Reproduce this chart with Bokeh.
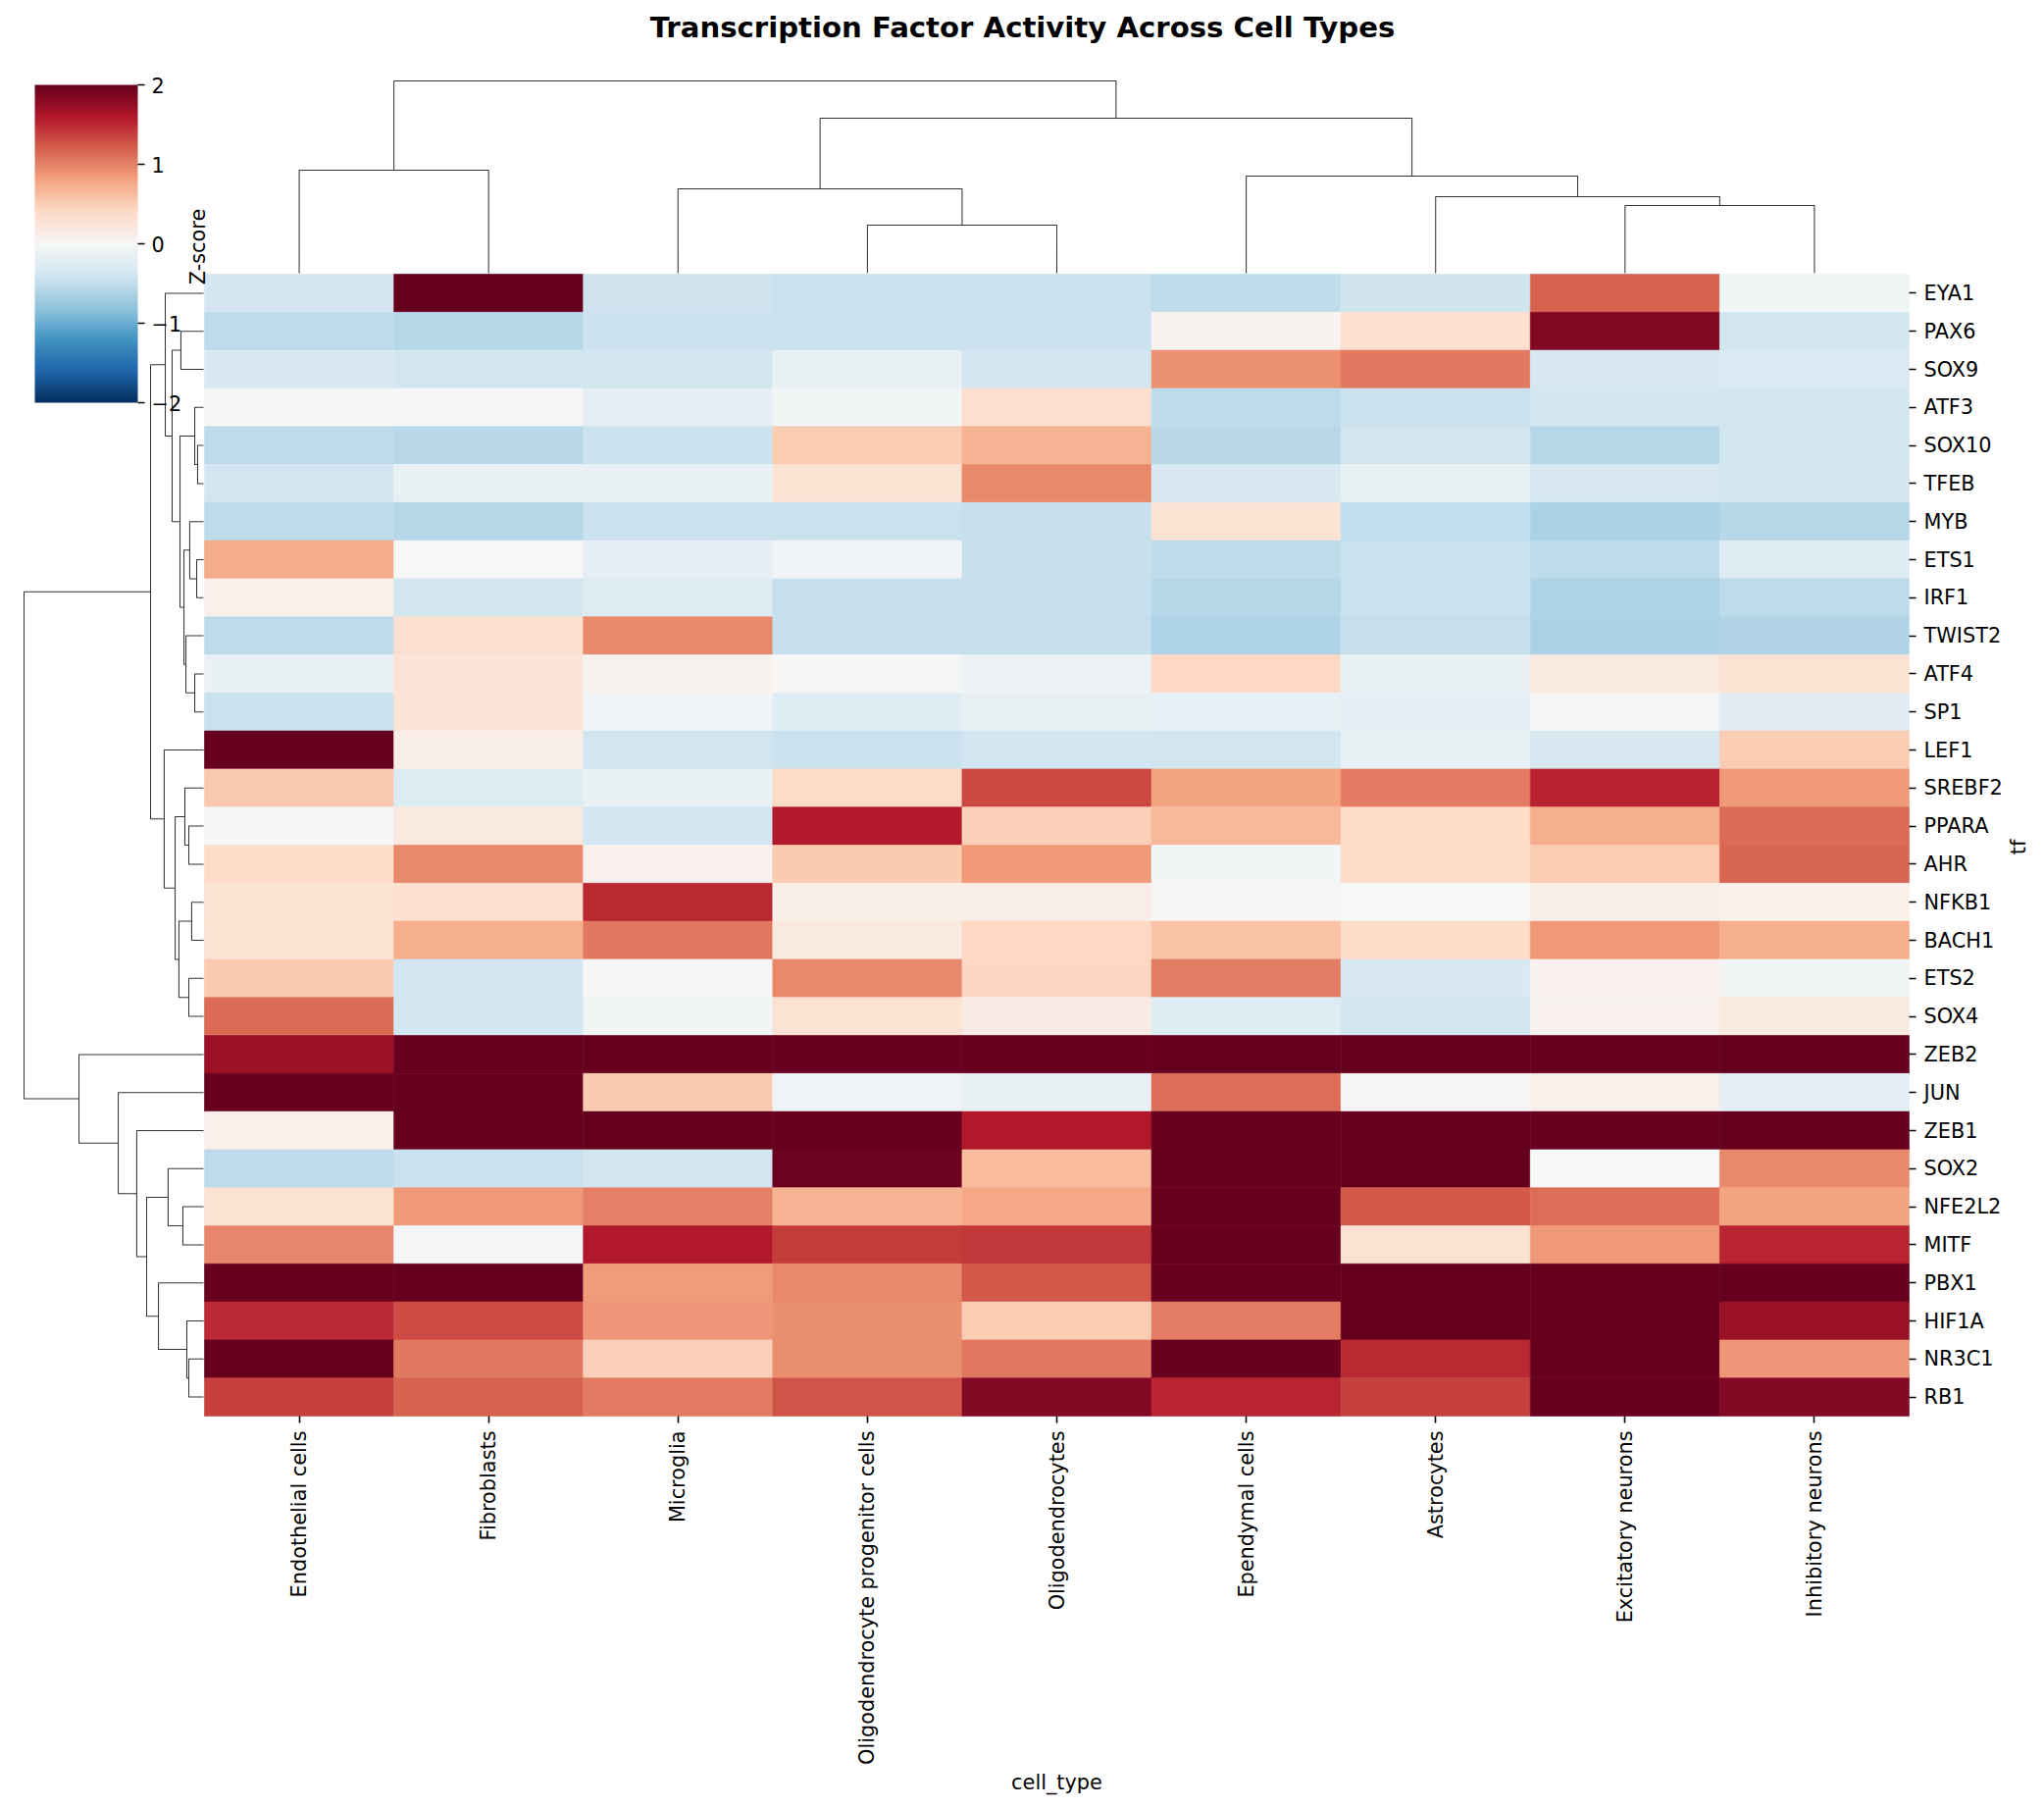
import math
import numpy as np
from bokeh.embed import file_html
from bokeh.resources import INLINE
from bokeh.plotting import figure
from bokeh.palettes import RdBu
from bokeh.models import (ColumnDataSource, Range1d, LinearAxis, FixedTicker, LinearColorMapper,
                          ColorBar, Label)
from bokeh.transform import transform

CELL_TYPES = ["Endothelial cells", "Fibroblasts", "Microglia", "Oligodendrocyte progenitor cells",
              "Oligodendrocytes", "Ependymal cells", "Astrocytes", "Excitatory neurons", "Inhibitory neurons"]
TFS = ["EYA1", "PAX6", "SOX9", "ATF3", "SOX10", "TFEB", "MYB", "ETS1", "IRF1", "TWIST2", "ATF4", "SP1", "LEF1",
       "SREBF2", "PPARA", "AHR", "NFKB1", "BACH1", "ETS2", "SOX4", "ZEB2", "JUN", "ZEB1", "SOX2", "NFE2L2",
       "MITF", "PBX1", "HIF1A", "NR3C1", "RB1"]
Z = [
    [-0.36, 2.5, -0.42, -0.45, -0.43, -0.51, -0.4, 1.18, -0.06],
    [-0.53, -0.57, -0.43, -0.45, -0.43, 0.05, 0.34, 1.85, -0.38],
    [-0.32, -0.39, -0.38, -0.15, -0.36, 0.92, 1.05, -0.33, -0.3],
    [0.01, -0.02, -0.2, -0.06, 0.34, -0.53, -0.44, -0.36, -0.38],
    [-0.53, -0.55, -0.43, 0.51, 0.7, -0.55, -0.39, -0.57, -0.38],
    [-0.36, -0.13, -0.14, 0.29, 0.96, -0.32, -0.15, -0.34, -0.37],
    [-0.53, -0.57, -0.44, -0.45, -0.46, 0.29, -0.5, -0.63, -0.57],
    [0.74, -0.01, -0.2, -0.07, -0.46, -0.51, -0.44, -0.53, -0.26],
    [0.1, -0.39, -0.28, -0.47, -0.46, -0.57, -0.44, -0.62, -0.53],
    [-0.53, 0.34, 0.96, -0.48, -0.47, -0.61, -0.47, -0.63, -0.6],
    [-0.13, 0.27, 0.07, 0.01, -0.12, 0.41, -0.13, 0.2, 0.29],
    [-0.44, 0.27, -0.07, -0.24, -0.15, -0.17, -0.2, 0.03, -0.23],
    [2.3, 0.13, -0.38, -0.45, -0.36, -0.39, -0.14, -0.33, 0.5],
    [0.54, -0.28, -0.14, 0.4, 1.32, 0.8, 1.04, 1.54, 0.87],
    [0.0, 0.19, -0.36, 1.58, 0.48, 0.65, 0.38, 0.72, 1.13],
    [0.39, 0.96, 0.09, 0.52, 0.86, -0.06, 0.38, 0.51, 1.16],
    [0.31, 0.34, 1.5, 0.11, 0.13, 0.02, -0.01, 0.12, 0.1],
    [0.3, 0.72, 1.05, 0.2, 0.41, 0.58, 0.38, 0.87, 0.72],
    [0.52, -0.36, 0.0, 0.96, 0.43, 1.02, -0.32, 0.09, -0.05],
    [1.14, -0.36, -0.06, 0.31, 0.17, -0.25, -0.39, 0.09, 0.2],
    [1.72, 2.5, 2.5, 2.5, 2.5, 2.5, 2.5, 2.5, 2.5],
    [2.5, 2.6, 0.52, -0.07, -0.15, 1.12, 0.0, 0.1, -0.2],
    [0.1, 2.5, 2.5, 2.2, 1.6, 2.5, 2.5, 2.5, 2.5],
    [-0.53, -0.45, -0.38, 1.96, 0.63, 2.5, 2.3, -0.01, 0.96],
    [0.3, 0.87, 1.0, 0.7, 0.77, 2.5, 1.23, 1.12, 0.8],
    [0.98, -0.02, 1.6, 1.4, 1.42, 2.5, 0.29, 0.87, 1.53],
    [2.5, 2.5, 0.85, 0.96, 1.24, 2.5, 2.5, 2.5, 2.5],
    [1.49, 1.31, 0.88, 0.93, 0.51, 1.03, 2.5, 2.5, 1.72],
    [2.3, 1.05, 0.49, 0.93, 1.05, 2.5, 1.5, 2.5, 0.88],
    [1.36, 1.18, 1.04, 1.25, 1.83, 1.53, 1.36, 2.5, 1.83],
]
# scipy-style linkages: (left child, right child, relative height); new nodes continue after the leaves
COL_LINK = [(0, 1, .536), (3, 4, .25), (2, 10, .439), (7, 8, .352), (6, 12, .398), (5, 13, .505),
            (11, 14, .806), (9, 15, 1.0)]
ROW_LINK = [(1, 2, .126), (4, 5, .033), (3, 31, .049), (7, 8, .038), (6, 33, .077), (10, 11, .049), (9, 35, .098),
            (34, 36, .109), (32, 37, .131), (30, 38, .175), (0, 39, .213), (14, 15, .082), (13, 41, .104),
            (16, 17, .066), (18, 19, .082), (43, 44, .137), (42, 45, .158), (12, 46, .219), (40, 47, .295),
            (24, 25, .115), (23, 49, .197), (28, 29, .082), (27, 51, .093), (26, 52, .251), (50, 53, .317),
            (22, 54, .372), (21, 55, .475), (20, 56, .694), (48, 57, 1.0)]

# layout in reference pixels
W, H = 2076, 1835
M = 0
HX0, HX1, HY0, HY1 = 208.0, 1946.0, 279.0, 1443.0
TREE_L_BASE, TREE_L_W = 207.0, 183.0
TREE_T_BASE, TREE_T_H = 278.0, 196.0
FONT = "DejaVu Sans"
TICK = "20.83px"

cw = (HX1 - HX0) / len(CELL_TYPES)
rh = (HY1 - HY0) / len(TFS)

p = figure(width=W, height=H, output_backend="svg", toolbar_location=None, min_border=0,
           x_axis_type=None, y_axis_type=None,
           x_range=Range1d((M - HX0) / cw, (M + W - HX0) / cw),
           y_range=Range1d((M + H - HY0) / rh, (M - HY0) / rh))
p.outline_line_color = None
p.grid.visible = False
p.background_fill_color = "white"
p.border_fill_color = "white"
p.extra_x_ranges["page"] = Range1d(M, M + W)
p.extra_y_ranges["page"] = Range1d(M + H, M)
p.extra_x_ranges["ltree"] = Range1d((TREE_L_BASE - M) / TREE_L_W, (TREE_L_BASE - M - W) / TREE_L_W)
p.extra_y_ranges["ttree"] = Range1d((TREE_T_BASE - M - H) / TREE_T_H, (TREE_T_BASE - M) / TREE_T_H)

stops = np.array([[int(c[i:i + 2], 16) for i in (1, 3, 5)] for c in RdBu[11]], float)
t = np.linspace(0, 10, 256)
palette = ["#%02x%02x%02x" % tuple(int(round(np.interp(v, np.arange(11), stops[:, k]))) for k in range(3)) for v in t]
mapper = LinearColorMapper(palette=palette, low=-2, high=2)

xs, ys, vs = [], [], []
for r, row in enumerate(Z):
    for c, v in enumerate(row):
        xs.append(c + .5)
        ys.append(r + .5)
        vs.append(v)
src = ColumnDataSource(dict(x=xs, y=ys, v=vs))
p.rect("x", "y", width=1, height=1, source=src, fill_color=transform("v", mapper),
       line_color=transform("v", mapper), line_width=0.6)


def dendro(link, n):
    pos = {i: (i + .5, 0.0) for i in range(n)}
    a, b = [], []
    for k, (l, r, h) in enumerate(link):
        (pl, hl), (pr, hr) = pos[l], pos[r]
        a.append([pl, pl, pr, pr])
        b.append([hl, h, h, hr])
        pos[n + k] = ((pl + pr) / 2, h)
    return a, b


a, b = dendro(COL_LINK, len(CELL_TYPES))
p.multi_line(a, b, y_range_name="ttree", line_color="#333333", line_width=1.04)
a, b = dendro(ROW_LINK, len(TFS))
p.multi_line(b, a, x_range_name="ltree", line_color="#333333", line_width=1.04)

right = LinearAxis(ticker=FixedTicker(ticks=[i + .5 for i in range(len(TFS))]),
                   major_label_overrides={i + .5: s for i, s in enumerate(TFS)},
                   fixed_location=len(CELL_TYPES), axis_line_color=None,
                   major_tick_in=0, major_tick_out=7, major_tick_line_width=1.6, minor_tick_line_color=None,
                   major_label_standoff=8, major_label_text_font=FONT, major_label_text_font_size=TICK,
                   major_label_text_color="black")
p.add_layout(right, "right")
bottom = LinearAxis(ticker=FixedTicker(ticks=[i + .5 for i in range(len(CELL_TYPES))]),
                    major_label_overrides={i + .5: s for i, s in enumerate(CELL_TYPES)},
                    fixed_location=len(TFS), axis_line_color=None,
                    major_tick_in=0, major_tick_out=7, major_tick_line_width=1.6, minor_tick_line_color=None,
                    major_label_standoff=8, major_label_orientation=math.pi / 2,
                    major_label_text_font=FONT, major_label_text_font_size=TICK, major_label_text_color="black")
p.add_layout(bottom, "below")

cb = ColorBar(color_mapper=mapper, location=(35 - M, M + H - 410), width=105, height=324, padding=0, margin=0,
              ticker=FixedTicker(ticks=[-2, -1, 0, 1, 2]),
              major_label_overrides={-2: "\u22122", -1: "\u22121", 0: "0", 1: "1", 2: "2"},
              major_tick_in=0, major_tick_out=7, major_tick_line_color="black", major_tick_line_width=1.6,
              minor_tick_line_color=None, bar_line_color=None, border_line_color=None, background_fill_color=None,
              label_standoff=7, major_label_text_font=FONT, major_label_text_font_size=TICK,
              major_label_text_color="black")
p.add_layout(cb, "center")

for txt, x, y, ang, size, style in [
    ("Transcription Factor Activity Across Cell Types", 1042, 27, 0, "29.17px", "bold"),
    ("Z-score", 201, 251, math.pi / 2, TICK, "normal"),
    ("cell_type", 1077, 1816, 0, TICK, "normal"),
    ("tf", 2057, 863, math.pi / 2, TICK, "normal"),
]:
    p.add_layout(Label(x=x, y=y, x_range_name="page", y_range_name="page", text=txt, angle=ang, text_align="center",
                       text_baseline="middle", text_font=FONT, text_font_size=size, text_font_style=style,
                       text_color="black"))

open("out.html", "w").write(file_html(p, INLINE))
